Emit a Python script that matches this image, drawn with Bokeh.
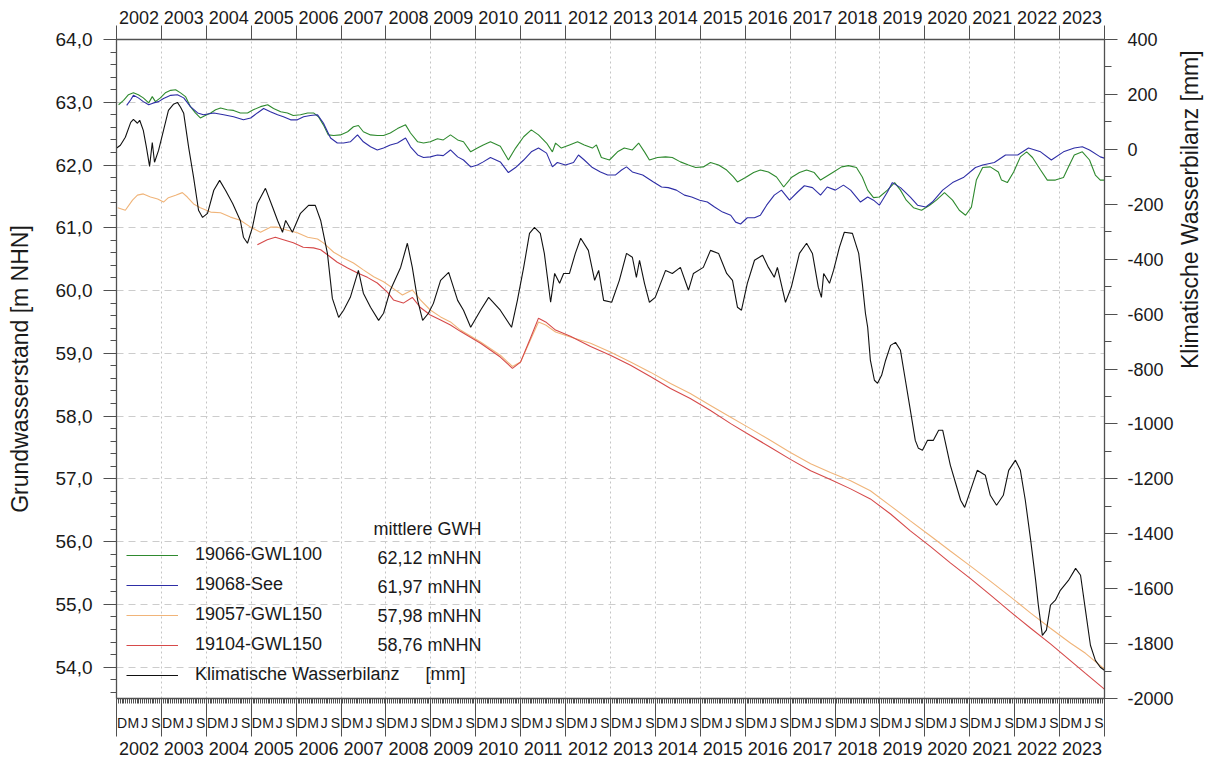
import math
from bokeh.plotting import figure
from bokeh.models import (Range1d, LinearAxis, FixedTicker, CustomJSTickFormatter,
                          Legend, LegendItem, Label)
from bokeh.embed import file_html
from bokeh.resources import INLINE

FONT = "Liberation Sans"
TXT = "#1a1a1a"
AX = "#505050"

# ---------------- data (decimal calendar years, values) ----------------
# 19066-GWL100 [m NHN]
gwl100_t = [2001.88, 2001.99, 2002.10, 2002.21, 2002.32, 2002.43, 2002.55, 2002.63, 2002.70, 2002.81,
            2002.92, 2003.04, 2003.15, 2003.26, 2003.37, 2003.48, 2003.59, 2003.70, 2003.81, 2003.93,
            2004.04, 2004.15, 2004.30, 2004.44, 2004.59, 2004.75, 2004.88, 2005.04, 2005.20, 2005.33,
            2005.49, 2005.64, 2005.77, 2005.93, 2006.09, 2006.22, 2006.33, 2006.44, 2006.55, 2006.67,
            2006.82, 2006.98, 2007.11, 2007.22, 2007.33, 2007.49, 2007.64, 2007.78, 2007.93, 2008.09,
            2008.27, 2008.38, 2008.54, 2008.67, 2008.82, 2008.98, 2009.11, 2009.27, 2009.43, 2009.56,
            2009.72, 2009.87, 2010.00, 2010.16, 2010.38, 2010.56, 2010.72, 2010.90, 2011.07, 2011.23,
            2011.41, 2011.54, 2011.61, 2011.74, 2011.92, 2012.10, 2012.25, 2012.43, 2012.52, 2012.63,
            2012.81, 2012.99, 2013.14, 2013.32, 2013.46, 2013.59, 2013.70, 2013.88, 2014.06, 2014.21,
            2014.39, 2014.57, 2014.73, 2014.90, 2015.06, 2015.24, 2015.42, 2015.57, 2015.66, 2015.84,
            2016.02, 2016.17, 2016.35, 2016.53, 2016.69, 2016.86, 2017.04, 2017.20, 2017.37, 2017.51,
            2017.62, 2017.80, 2017.98, 2018.13, 2018.31, 2018.44, 2018.56, 2018.69, 2018.82, 2019.00,
            2019.16, 2019.29, 2019.42, 2019.58, 2019.76, 2019.94, 2020.09, 2020.27, 2020.45, 2020.60,
            2020.74, 2020.87, 2020.98, 2021.12, 2021.29, 2021.47, 2021.54, 2021.67, 2021.81, 2021.96,
            2022.10, 2022.23, 2022.41, 2022.56, 2022.74, 2022.92, 2023.03, 2023.16, 2023.34, 2023.50,
            2023.63, 2023.74, 2023.83]
gwl100_v = [62.96, 63.03, 63.12, 63.15, 63.12, 63.07, 62.99, 63.09, 63.01, 63.07,
            63.15, 63.19, 63.20, 63.15, 63.09, 62.93, 62.83, 62.75, 62.79, 62.83,
            62.88, 62.91, 62.88, 62.87, 62.83, 62.83, 62.88, 62.93, 62.96, 62.90,
            62.85, 62.83, 62.79, 62.80, 62.83, 62.83, 62.77, 62.64, 62.48, 62.47,
            62.48, 62.53, 62.61, 62.63, 62.53, 62.48, 62.47, 62.47, 62.51, 62.58,
            62.64, 62.51, 62.37, 62.35, 62.37, 62.42, 62.40, 62.48, 62.40, 62.37,
            62.21, 62.27, 62.32, 62.37, 62.30, 62.08, 62.27, 62.45, 62.56, 62.48,
            62.35, 62.21, 62.35, 62.27, 62.32, 62.37, 62.32, 62.27, 62.32, 62.12,
            62.08, 62.21, 62.27, 62.24, 62.35, 62.21, 62.08, 62.12, 62.13, 62.12,
            62.05, 62.00, 61.96, 61.97, 62.04, 62.00, 61.92, 61.81, 61.73, 61.80,
            61.88, 61.92, 61.89, 61.81, 61.65, 61.80, 61.88, 61.92, 61.88, 61.76,
            61.81, 61.89, 61.97, 61.99, 61.96, 61.81, 61.60, 61.48, 61.49, 61.60,
            61.72, 61.60, 61.44, 61.32, 61.28, 61.36, 61.44, 61.56, 61.44, 61.28,
            61.20, 61.33, 61.76, 61.96, 61.97, 61.89, 61.76, 61.72, 61.89, 62.13,
            62.21, 62.12, 61.92, 61.76, 61.76, 61.80, 61.97, 62.16, 62.21, 62.08,
            61.84, 61.76, 61.76]

# 19068-See [m NHN]
see_t = [2002.06, 2002.15, 2002.21, 2002.32, 2002.43, 2002.55, 2002.66, 2002.77, 2002.88, 2003.04,
         2003.19, 2003.33, 2003.48, 2003.64, 2003.77, 2004.00, 2004.22, 2004.44, 2004.66, 2004.82,
         2004.97, 2005.11, 2005.26, 2005.42, 2005.55, 2005.71, 2005.86, 2006.00, 2006.15, 2006.31,
         2006.44, 2006.60, 2006.75, 2006.89, 2007.04, 2007.20, 2007.33, 2007.49, 2007.64, 2007.78,
         2007.93, 2008.09, 2008.27, 2008.38, 2008.54, 2008.67, 2008.82, 2008.98, 2009.11, 2009.27,
         2009.43, 2009.56, 2009.72, 2009.87, 2010.00, 2010.16, 2010.38, 2010.56, 2010.72, 2010.90,
         2011.07, 2011.23, 2011.41, 2011.54, 2011.65, 2011.83, 2012.01, 2012.12, 2012.25, 2012.43,
         2012.61, 2012.77, 2012.94, 2013.08, 2013.19, 2013.32, 2013.55, 2013.79, 2013.97, 2014.12,
         2014.30, 2014.48, 2014.64, 2014.82, 2014.99, 2015.15, 2015.33, 2015.51, 2015.62, 2015.73,
         2015.88, 2016.04, 2016.17, 2016.31, 2016.48, 2016.64, 2016.82, 2017.00, 2017.15, 2017.33,
         2017.51, 2017.66, 2017.84, 2018.02, 2018.18, 2018.40, 2018.56, 2018.69, 2018.82, 2019.00,
         2019.11, 2019.29, 2019.51, 2019.67, 2019.85, 2020.00, 2020.23, 2020.45, 2020.69, 2020.96,
         2021.12, 2021.38, 2021.63, 2021.90, 2022.14, 2022.41, 2022.65, 2022.92, 2023.16, 2023.34,
         2023.50, 2023.74, 2023.83]
see_v = [62.95, 63.04, 63.11, 63.07, 63.01, 62.96, 62.99, 63.01, 63.06, 63.11,
         63.12, 63.07, 62.93, 62.83, 62.80, 62.83, 62.80, 62.77, 62.72, 62.75,
         62.83, 62.90, 62.85, 62.80, 62.77, 62.72, 62.72, 62.77, 62.79, 62.80,
         62.67, 62.43, 62.35, 62.35, 62.37, 62.48, 62.37, 62.29, 62.24, 62.27,
         62.32, 62.35, 62.43, 62.29, 62.16, 62.12, 62.13, 62.16, 62.15, 62.24,
         62.13, 62.08, 61.97, 62.00, 62.05, 62.12, 62.05, 61.88, 61.96, 62.08,
         62.21, 62.27, 62.19, 61.97, 62.04, 62.00, 62.04, 62.16, 62.08, 61.96,
         61.89, 61.84, 61.84, 61.92, 61.97, 61.89, 61.84, 61.73, 61.65, 61.64,
         61.60, 61.52, 61.49, 61.44, 61.41, 61.33, 61.25, 61.20, 61.09, 61.06,
         61.16, 61.16, 61.20, 61.36, 61.52, 61.60, 61.44, 61.57, 61.67, 61.64,
         61.52, 61.65, 61.60, 61.68, 61.60, 61.41, 61.49, 61.44, 61.36, 61.57,
         61.72, 61.64, 61.49, 61.36, 61.33, 61.41, 61.60, 61.72, 61.80, 61.96,
         62.00, 62.04, 62.16, 62.16, 62.27, 62.21, 62.08, 62.21, 62.27, 62.29,
         62.24, 62.13, 62.11]

# 19057-GWL150 [m NHN]
gwl150a_t = [2001.86, 2002.03, 2002.19, 2002.30, 2002.43, 2002.59, 2002.75, 2002.88, 2002.99, 2003.15,
             2003.30, 2003.41, 2003.55, 2003.70, 2003.93, 2004.15, 2004.37, 2004.59, 2004.82, 2005.04,
             2005.26, 2005.42, 2005.64, 2005.86, 2006.09, 2006.31, 2006.44, 2006.67, 2006.89, 2007.11,
             2007.33, 2007.56, 2007.78, 2008.00, 2008.20, 2008.42, 2008.60, 2008.82, 2009.05, 2009.27,
             2009.49, 2009.94, 2010.38, 2010.65, 2010.83, 2011.05, 2011.23, 2011.39, 2011.61, 2011.94,
             2012.39, 2012.83, 2013.28, 2013.72, 2014.17, 2014.61, 2015.06, 2015.51, 2015.95, 2016.40,
             2016.84, 2017.29, 2017.73, 2018.18, 2018.62, 2019.07, 2019.51, 2019.96, 2020.40, 2020.85,
             2021.29, 2021.74, 2022.19, 2022.63, 2023.08, 2023.41, 2023.83]
gwl150a_v = [61.32, 61.28, 61.44, 61.52, 61.54, 61.49, 61.46, 61.41, 61.48, 61.52,
             61.56, 61.49, 61.38, 61.32, 61.25, 61.24, 61.17, 61.12, 61.01, 60.93,
             61.01, 61.01, 60.96, 60.92, 60.85, 60.82, 60.76, 60.61, 60.52, 60.44,
             60.33, 60.22, 60.14, 60.03, 59.93, 60.01, 59.85, 59.69, 59.58, 59.50,
             59.37, 59.18, 58.97, 58.79, 58.86, 59.21, 59.50, 59.45, 59.34, 59.26,
             59.16, 59.02, 58.86, 58.70, 58.52, 58.36, 58.17, 57.98, 57.80, 57.61,
             57.42, 57.24, 57.10, 56.97, 56.81, 56.57, 56.33, 56.09, 55.85, 55.61,
             55.37, 55.12, 54.86, 54.62, 54.38, 54.22, 53.97]

# 19104-GWL150 [m NHN]
gwl150b_t = [2004.97, 2005.19, 2005.37, 2005.55, 2005.77, 2005.99, 2006.22, 2006.38, 2006.53, 2006.75,
             2006.98, 2007.20, 2007.42, 2007.64, 2007.87, 2008.00, 2008.22, 2008.42, 2008.60, 2008.82,
             2009.05, 2009.27, 2009.49, 2009.94, 2010.38, 2010.65, 2010.83, 2011.05, 2011.23, 2011.39,
             2011.61, 2011.94, 2012.39, 2012.83, 2013.28, 2013.72, 2014.17, 2014.61, 2015.06, 2015.51,
             2015.95, 2016.40, 2016.84, 2017.29, 2017.73, 2018.18, 2018.62, 2019.07, 2019.51, 2019.96,
             2020.40, 2020.85, 2021.29, 2021.74, 2022.19, 2022.63, 2023.08, 2023.41, 2023.83]
gwl150b_v = [60.73, 60.81, 60.85, 60.81, 60.76, 60.69, 60.68, 60.65, 60.57, 60.45,
             60.36, 60.28, 60.21, 60.12, 59.97, 59.85, 59.80, 59.89, 59.73, 59.61,
             59.53, 59.45, 59.35, 59.16, 58.94, 58.76, 58.86, 59.24, 59.56, 59.50,
             59.37, 59.27, 59.11, 58.97, 58.81, 58.63, 58.44, 58.28, 58.09, 57.88,
             57.69, 57.50, 57.31, 57.13, 56.99, 56.84, 56.68, 56.44, 56.17, 55.92,
             55.66, 55.41, 55.15, 54.88, 54.62, 54.37, 54.10, 53.90, 53.65]

# Klimatische Wasserbilanz [mm]
kwb_t = [2001.83, 2001.92, 2002.03, 2002.15, 2002.21, 2002.30, 2002.35, 2002.43, 2002.50, 2002.57,
         2002.63, 2002.68, 2002.77, 2002.88, 2002.99, 2003.10, 2003.19, 2003.26, 2003.33, 2003.44,
         2003.55, 2003.66, 2003.75, 2003.86, 2004.00, 2004.13, 2004.26, 2004.42, 2004.59, 2004.66,
         2004.75, 2004.86, 2004.97, 2005.15, 2005.31, 2005.42, 2005.53, 2005.60, 2005.75, 2005.93,
         2006.11, 2006.26, 2006.38, 2006.53, 2006.64, 2006.78, 2006.89, 2007.04, 2007.22, 2007.33,
         2007.49, 2007.67, 2007.78, 2007.93, 2008.16, 2008.31, 2008.42, 2008.54, 2008.65, 2008.78,
         2008.89, 2009.05, 2009.23, 2009.43, 2009.56, 2009.72, 2009.94, 2010.12, 2010.38, 2010.63,
         2010.76, 2010.90, 2011.03, 2011.14, 2011.27, 2011.36, 2011.50, 2011.59, 2011.70, 2011.79,
         2011.92, 2012.05, 2012.17, 2012.34, 2012.48, 2012.57, 2012.68, 2012.86, 2013.03, 2013.19,
         2013.32, 2013.41, 2013.48, 2013.59, 2013.70, 2013.83, 2014.06, 2014.21, 2014.39, 2014.57,
         2014.68, 2014.90, 2015.06, 2015.24, 2015.42, 2015.55, 2015.66, 2015.75, 2015.88, 2016.04,
         2016.22, 2016.35, 2016.48, 2016.55, 2016.73, 2016.86, 2017.04, 2017.20, 2017.33, 2017.46,
         2017.53, 2017.58, 2017.71, 2017.80, 2017.93, 2018.04, 2018.22, 2018.36, 2018.44, 2018.51,
         2018.56, 2018.62, 2018.71, 2018.78, 2018.87, 2018.96, 2019.07, 2019.18, 2019.29, 2019.40,
         2019.51, 2019.62, 2019.69, 2019.78, 2019.89, 2020.02, 2020.14, 2020.23, 2020.40, 2020.63,
         2020.72, 2020.85, 2021.00, 2021.18, 2021.29, 2021.43, 2021.58, 2021.70, 2021.85, 2021.96,
         2022.07, 2022.19, 2022.30, 2022.36, 2022.45, 2022.54, 2022.63, 2022.74, 2022.85, 2023.03,
         2023.19, 2023.30, 2023.41, 2023.52, 2023.63, 2023.74, 2023.83]
kwb_v = [4, 15, 44, 98, 109, 95, 106, 69, 7, -62,
         25, -47, -4, 69, 142, 164, 171, 153, 131, 7,
         -102, -222, -248, -233, -149, -113, -149, -197, -259, -320,
         -342, -284, -197, -142, -211, -259, -302, -259, -302, -233,
         -204, -204, -259, -379, -543, -612, -586, -539, -441, -524,
         -575, -623, -597, -513, -430, -342, -430, -550, -623, -597,
         -561, -477, -448, -550, -586, -648, -586, -539, -586, -648,
         -550, -430, -306, -284, -306, -379, -557, -452, -488, -452,
         -452, -379, -324, -368, -477, -441, -550, -557, -477, -379,
         -393, -466, -404, -488, -557, -539, -441, -452, -430, -513,
         -452, -430, -368, -379, -452, -477, -575, -586, -488, -404,
         -386, -430, -466, -430, -557, -502, -379, -342, -379, -502,
         -539, -452, -488, -441, -357, -302, -306, -379, -488, -597,
         -648, -768, -841, -852, -823, -768, -714, -703, -732, -841,
         -950, -1060, -1089, -1096, -1060, -1060, -1023, -1023, -1150, -1278,
         -1304, -1242, -1169, -1187, -1260, -1296, -1260, -1169, -1132, -1169,
         -1278, -1424, -1570, -1660, -1770, -1751, -1660, -1642, -1606, -1570,
         -1526, -1551, -1679, -1806, -1861, -1886, -1897]

legend_names = ["19066-GWL100", "19068-See", "19057-GWL150", "19104-GWL150",
                "Klimatische Wasserbilanz"]
legend_means = ["62,12 mNHN", "61,97 mNHN", "57,98 mNHN", "58,76 mNHN"]
legend_header = "mittlere GWH"
kwb_unit = "[mm]"

# ---------------- tick definitions ----------------
HYD_START = 2001 + 10 / 12          # 1 Nov 2001 (hydrological year 2002)
N_YEARS = 22
year_labels = [str(2002 + k) for k in range(N_YEARS)]
year_bounds = [HYD_START + k for k in range(N_YEARS + 1)]
year_mids = [HYD_START + k + 0.5 for k in range(N_YEARS)]
season_labels = ["D", "M", "J", "S"]
season_months = [1, 4, 7, 10]       # months after 1 Nov
season_ticks = [HYD_START + k + (m + 0.5) / 12 for k in range(N_YEARS) for m in season_months]
season_tick_labels = [s for k in range(N_YEARS) for s in season_labels]
fine_ticks = [HYD_START + i / 24 for i in range(N_YEARS * 24 + 1)]

gw_ticks = [54.0 + i for i in range(11)]
gw_tick_labels = [f"{v:.1f}".replace(".", ",") for v in gw_ticks]
gw_minor = [round(53.6 + 0.2 * i, 1) for i in range(53)]
kwb_ticks = list(range(-2000, 401, 200))
kwb_tick_labels = [str(v) for v in kwb_ticks]
kwb_minor = list(range(-2000, 401, 100))


def list_formatter(ticks, labels):
    return CustomJSTickFormatter(args=dict(tv=ticks, tl=labels), code="""
        let best = 0, d = Infinity;
        for (let i = 0; i < tv.length; i++) {
            const e = Math.abs(tv[i] - tick);
            if (e < d) { d = e; best = i; }
        }
        return tl[best];
    """)


def style_axis(ax, size="18px"):
    ax.axis_line_color = AX
    ax.axis_line_width = 1.3
    ax.major_tick_line_color = AX
    ax.minor_tick_line_color = AX
    ax.major_label_text_font = FONT
    ax.major_label_text_font_size = size
    ax.major_label_text_color = TXT
    ax.axis_label_text_font = FONT
    ax.axis_label_text_font_style = "normal"
    ax.axis_label_text_color = TXT
    ax.axis_label_text_font_size = "23px"


p = figure(width=1222, height=760,
           x_range=Range1d(HYD_START, HYD_START + N_YEARS),
           y_range=Range1d(53.5, 64.0),
           x_axis_location="above",
           output_backend="svg", toolbar_location=None,
           min_border_left=116, min_border_right=118,
           min_border_top=39, min_border_bottom=62)
p.extra_y_ranges = {"kwb": Range1d(-2000, 400)}
p.outline_line_color = None
p.background_fill_color = "white"
p.border_fill_color = "white"

# grids
p.xgrid.ticker = FixedTicker(ticks=year_bounds)
p.xgrid.grid_line_color = "#c4c4c4"
p.xgrid.grid_line_dash = "2 3"
p.ygrid.ticker = FixedTicker(ticks=gw_ticks)
p.ygrid.grid_line_color = "#cccccc"
p.ygrid.grid_line_dash = "7 5"

# top axis: year labels centred, year ticks outward
top = p.xaxis[0]
style_axis(top)
top.ticker = FixedTicker(ticks=year_mids, minor_ticks=year_bounds)
top.formatter = list_formatter(year_mids, year_labels)
top.major_tick_in = 0
top.major_tick_out = 0
top.minor_tick_in = -14
top.minor_tick_out = 0
top.major_label_standoff = 16

# left axis
left = p.yaxis[0]
style_axis(left, "19px")
left.ticker = FixedTicker(ticks=gw_ticks, minor_ticks=gw_minor)
left.formatter = list_formatter(gw_ticks, gw_tick_labels)
left.major_tick_in = 0
left.major_tick_out = 13
left.minor_tick_in = 0
left.minor_tick_out = 6
left.major_label_standoff = 11
left.axis_label = "Grundwasserstand [m NHN]"
left.axis_label_standoff = 20

# right axis
right = LinearAxis(y_range_name="kwb")
style_axis(right)
right.ticker = FixedTicker(ticks=kwb_ticks, minor_ticks=kwb_minor)
right.formatter = list_formatter(kwb_ticks, kwb_tick_labels)
right.major_tick_in = 0
right.major_tick_out = 13
right.minor_tick_in = 0
right.minor_tick_out = 7
right.major_label_standoff = 10
right.axis_label = "Klimatische Wasserbilanz [mm]"
right.axis_label_standoff = 13
try:
    right.axis_label_orientation = math.pi / 2
except Exception:
    pass
p.add_layout(right, "right")

# bottom: tick line axis (year ticks long, half-month ticks short)
b0 = LinearAxis()
style_axis(b0, "1px")
b0.ticker = FixedTicker(ticks=year_bounds, minor_ticks=fine_ticks)
b0.formatter = CustomJSTickFormatter(code="return '';")
b0.major_tick_in = -38
b0.major_tick_out = 0
b0.minor_tick_in = -5
b0.minor_tick_out = 0
b0.major_label_standoff = 0
p.add_layout(b0, "below")

# bottom: season letters
b1 = LinearAxis()
style_axis(b1, "14px")
b1.ticker = FixedTicker(ticks=season_ticks, minor_ticks=[])
b1.formatter = list_formatter(season_ticks, season_tick_labels)
b1.axis_line_color = None
b1.major_tick_line_color = None
b1.minor_tick_line_color = None
b1.major_tick_in = 0
b1.major_tick_out = 0
b1.major_label_standoff = 16
p.add_layout(b1, "below")

# bottom: year labels
b2 = LinearAxis()
style_axis(b2, "18px")
b2.ticker = FixedTicker(ticks=year_mids, minor_ticks=[])
b2.formatter = list_formatter(year_mids, year_labels)
b2.axis_line_color = None
b2.major_tick_line_color = None
b2.minor_tick_line_color = None
b2.major_tick_in = 0
b2.major_tick_out = 0
b2.major_label_standoff = 8
p.add_layout(b2, "below")

# ---------------- series ----------------
r_g = p.line(gwl100_t, gwl100_v, line_color="#2f8a2f", line_width=1.1)
r_b = p.line(see_t, see_v, line_color="#2e2ea6", line_width=1.1)
r_o = p.line(gwl150a_t, gwl150a_v, line_color="#f0b479", line_width=1.1)
r_r = p.line(gwl150b_t, gwl150b_v, line_color="#d64a4a", line_width=1.1)
r_k = p.line(kwb_t, kwb_v, y_range_name="kwb", line_color="#111111", line_width=1.1)

renderers = [r_g, r_b, r_o, r_r, r_k]
legend = Legend(items=[LegendItem(label=n, renderers=[r]) for n, r in zip(legend_names, renderers)],
                location=(10, 13), orientation="vertical",
                border_line_color=None, background_fill_alpha=0,
                padding=0, margin=0, spacing=9, label_standoff=17,
                glyph_width=52, glyph_height=20, label_height=20,
                label_text_font=FONT, label_text_font_size="18px",
                label_text_color=TXT)
p.add_layout(legend, "center")

ROW_H = 29
row_y = [25 + (4 - i) * ROW_H for i in range(5)]
VAL_X = 365
for txt, yy in zip(legend_means, row_y[:4]):
    p.add_layout(Label(x=VAL_X, y=yy, x_units="screen", y_units="screen", text=txt,
                       text_align="right", text_baseline="middle",
                       text_font=FONT, text_font_size="18px", text_color=TXT))
p.add_layout(Label(x=VAL_X, y=row_y[0] + ROW_H, x_units="screen", y_units="screen",
                   text=legend_header, text_align="right", text_baseline="middle",
                   text_font=FONT, text_font_size="18px", text_color=TXT))
p.add_layout(Label(x=309, y=row_y[4], x_units="screen", y_units="screen", text=kwb_unit,
                   text_align="left", text_baseline="middle",
                   text_font=FONT, text_font_size="18px", text_color=TXT))

open("out.html", "w").write(file_html(p, INLINE))
